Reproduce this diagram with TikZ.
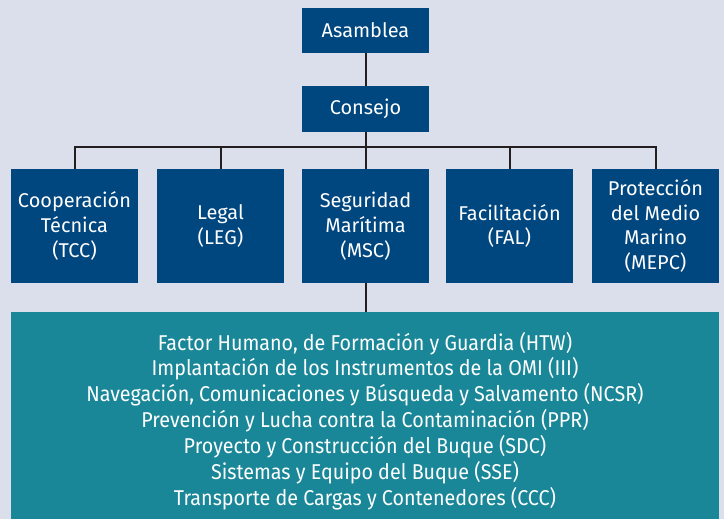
\documentclass[tikz,border=0pt]{standalone}
\usepackage{fontspec}
\setmainfont{Fira Sans}
\newfontfamily\condfont[FakeStretch=0.92]{Fira Sans}
\definecolor{bgc}{HTML}{DADFEB}
\definecolor{darkb}{HTML}{00467F}
\definecolor{tealc}{HTML}{1A8799}
\definecolor{linec}{HTML}{231F20}
\tikzset{
  orgbox/.style={fill=darkb, text=white, minimum width=127bp, inner sep=0pt, align=center, font=\fontsize{20}{25}\selectfont},
  conn/.style={draw=linec, line width=2bp}
}
\begin{document}
\begin{tikzpicture}[x=1bp, y=-1bp]
\fill[bgc] (0,0) rectangle (724,519);
\useasboundingbox (0,0) rectangle (724,519);
\node[orgbox, minimum height=45bp] (asm) at (365.5,30.5) {Asamblea};
\node[orgbox, minimum height=46bp] (con) at (365.5,109) {Consejo};
\node[orgbox, minimum height=114bp] (tcc) at (74.5,226) {Cooperación\\Técnica\\(TCC)};
\node[orgbox, minimum height=114bp] (leg) at (220.5,226) {Legal\\(LEG)};
\node[orgbox, minimum height=114bp] (msc) at (365.5,226) {Seguridad\\Marítima\\(MSC)};
\node[orgbox, minimum height=114bp] (fal) at (509.5,226) {Facilitación\\(FAL)};
\node[orgbox, minimum height=114bp] (mepc) at (655.5,226) {Protección\\del Medio\\Marino\\(MEPC)};
\node[fill=tealc, minimum width=708bp, minimum height=207bp, inner sep=0pt] (sub) at (365,415.5) {};
\node[text=white, inner sep=0pt, align=center, font=\condfont\fontsize{21.5}{26}\selectfont] (subtxt) at (365,421) {Factor Humano, de Formación y Guardia (HTW)\\Implantación de los Instrumentos de la OMI (III)\\Navegación, Comunicaciones y Búsqueda y Salvamento (NCSR)\\Prevención y Lucha contra la Contaminación (PPR)\\Proyecto y Construcción del Buque (SDC)\\Sistemas y Equipo del Buque (SSE)\\Transporte de Cargas y Contenedores (CCC)};
\coordinate (bus) at (365.5,147);
\draw[conn] (asm.south) -- (con.north);
\draw[conn] (con.south) -- (bus);
\draw[conn] (tcc.north) |- (bus);
\draw[conn] (mepc.north) |- (bus);
\draw[conn] (leg.north) -- (leg.north |- bus);
\draw[conn] (msc.north) -- (bus);
\draw[conn] (fal.north) -- (fal.north |- bus);
\draw[conn] (msc.south) -- (sub.north -| msc.south);
\end{tikzpicture}
\end{document}
